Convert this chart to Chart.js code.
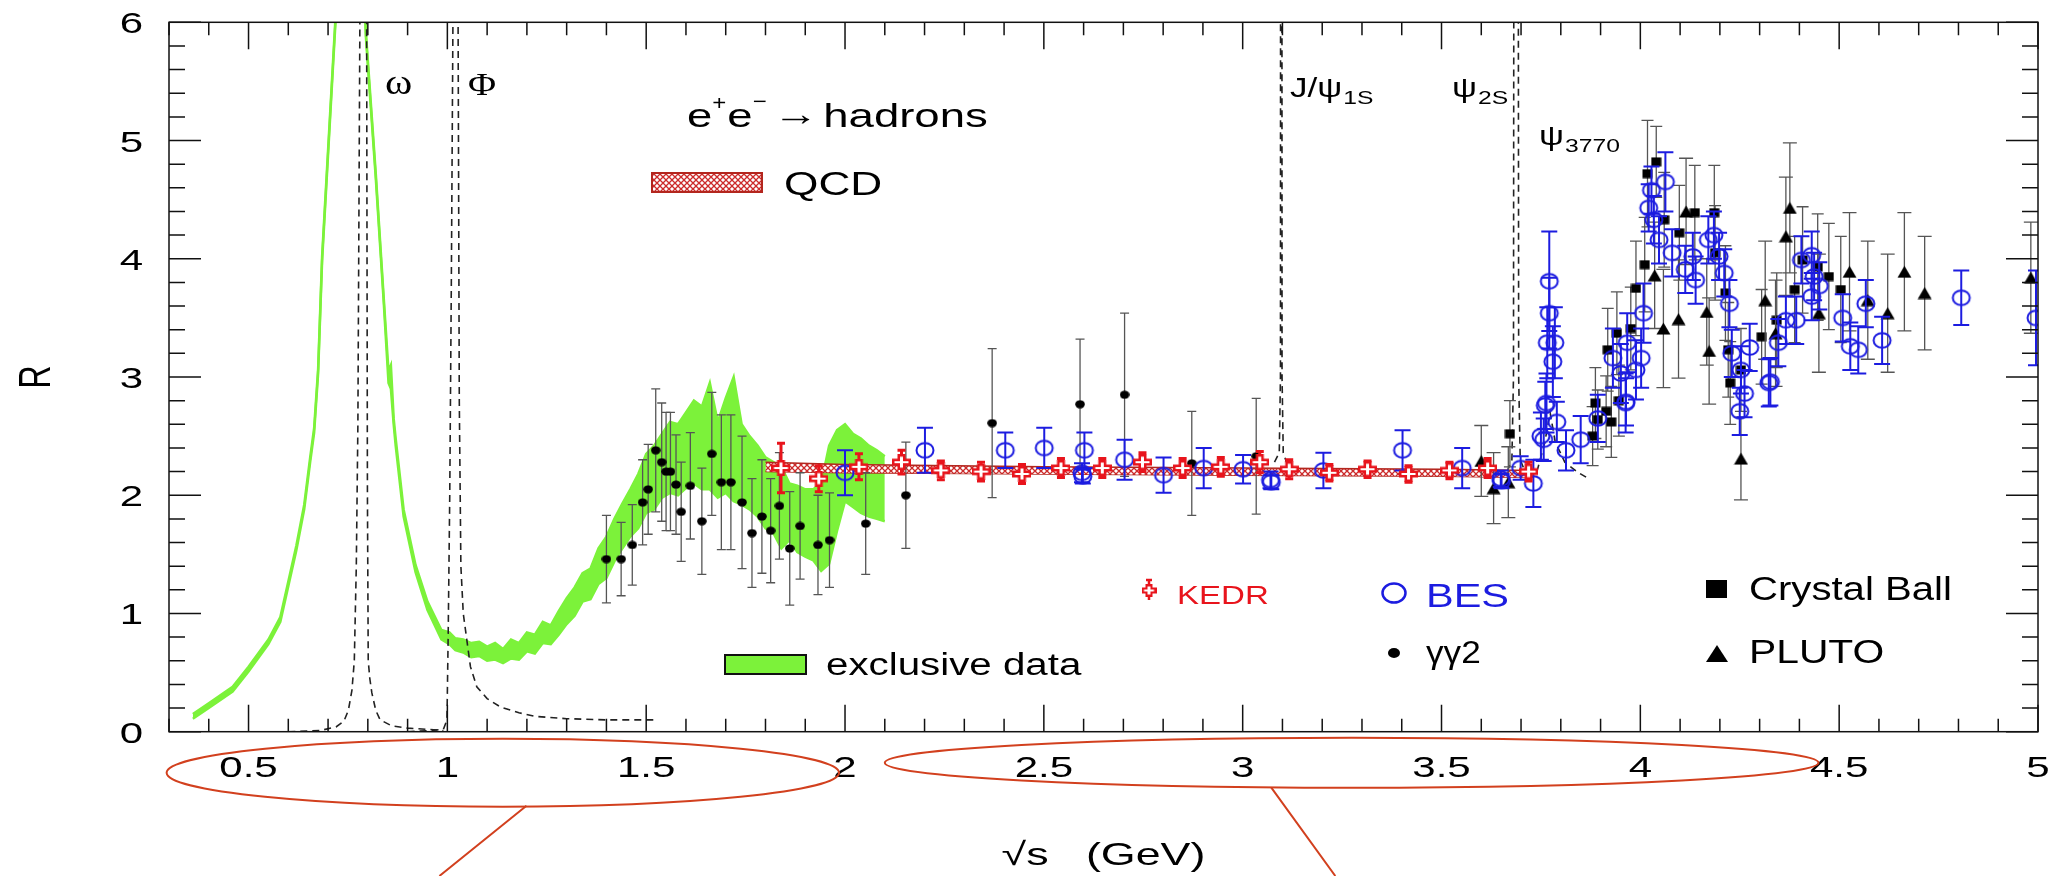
<!DOCTYPE html>
<html>
<head>
<meta charset="utf-8">
<script src="https://cdn.jsdelivr.net/npm/chart.js@4.4.1/dist/chart.umd.min.js"></script>
<style>
  html, body { margin: 0; padding: 0; background: #fff; }
  #wrap { width: 2051px; height: 876px; position: relative; }
</style>
</head>
<body>
<div id="wrap"><canvas id="c"></canvas></div>
<script>
// ---------- axis labels ----------
const xTickLabels = ['0.5', '1', '1.5', '2', '2.5', '3', '3.5', '4', '4.5', '5'];
const yTickLabels = ['0', '1', '2', '3', '4', '5', '6'];

// ---------- exclusive-channel sum (band) ----------
const exclEnergy = [0.36, 0.40, 0.46, 0.50, 0.55, 0.58, 0.60, 0.62, 0.64, 0.655, 0.665, 0.675, 0.685, 0.70, 0.72, 0.74, 0.76, 0.775, 0.785, 0.795,
  0.82, 0.84, 0.852, 0.858, 0.865, 0.87, 0.89, 0.92, 0.95, 0.985, 1.005, 1.02, 1.04, 1.06, 1.08, 1.10, 1.12, 1.14, 1.16, 1.18,
  1.20, 1.22, 1.24, 1.26, 1.28, 1.30, 1.32, 1.34, 1.36, 1.38, 1.40, 1.42, 1.44, 1.46, 1.48, 1.50, 1.52, 1.54, 1.56, 1.58,
  1.60, 1.62, 1.64, 1.66, 1.68, 1.70, 1.72, 1.74, 1.76, 1.78, 1.80, 1.82, 1.84, 1.86, 1.88, 1.90, 1.92, 1.94, 1.96, 1.98,
  2.00, 2.02, 2.04, 2.06, 2.08, 2.10];
const exclUpper = [0.15, 0.24, 0.38, 0.55, 0.78, 0.97, 1.27, 1.57, 1.92, 2.32, 2.57, 3.07, 4.02, 4.92, 6.12, 7.62, 8.62, 8.02, 7.02, 5.92,
  4.72, 3.67, 3.05, 3.10, 2.65, 2.48, 1.88, 1.41, 1.10, 0.86, 0.84, 0.79, 0.78, 0.75, 0.76, 0.72, 0.75, 0.70, 0.78, 0.75,
  0.84, 0.82, 0.93, 0.90, 1.02, 1.13, 1.22, 1.34, 1.38, 1.55, 1.65, 1.80, 1.93, 2.05, 2.18, 2.35, 2.42, 2.52, 2.62, 2.60,
  2.70, 2.80, 2.75, 2.95, 2.62, 2.82, 3.00, 2.60, 2.50, 2.42, 2.32, 2.28, 2.24, 2.10, 2.08, 2.05, 2.05, 2.10, 2.42, 2.55,
  2.60, 2.52, 2.48, 2.42, 2.38, 2.33];
const exclLower = [0.11, 0.20, 0.34, 0.51, 0.74, 0.93, 1.23, 1.53, 1.88, 2.28, 2.53, 3.03, 3.98, 4.88, 6.08, 7.58, 8.58, 7.98, 6.98, 5.88,
  4.68, 3.63, 2.95, 2.90, 2.60, 2.42, 1.82, 1.35, 1.03, 0.78, 0.74, 0.69, 0.67, 0.63, 0.64, 0.60, 0.61, 0.58, 0.62, 0.61,
  0.68, 0.66, 0.75, 0.74, 0.82, 0.91, 0.98, 1.10, 1.12, 1.25, 1.30, 1.44, 1.55, 1.65, 1.72, 1.85, 1.88, 1.98, 2.02, 2.00,
  2.06, 2.10, 2.05, 2.05, 1.98, 2.02, 1.95, 1.92, 1.88, 1.82, 1.72, 1.68, 1.55, 1.62, 1.52, 1.48, 1.45, 1.36, 1.42, 1.70,
  1.95, 1.90, 1.85, 1.82, 1.80, 1.78];

// ---------- narrow resonances (dashed) ----------
const omegaEnergy = [0.60, 0.68, 0.72, 0.74, 0.751, 0.760, 0.766, 0.771, 0.775, 0.780, 0.788, 0.797, 0.799, 0.801, 0.805, 0.81, 0.82, 0.831, 0.86, 0.90, 0.95, 0.99];
const omegaR = [0.0, 0.01, 0.04, 0.09, 0.18, 0.35, 0.6, 1.4, 2.6, 6.0, 12, 6.0, 2.0, 0.6, 0.45, 0.33, 0.18, 0.10, 0.05, 0.03, 0.02, 0.01];
const phiEnergy = [0.90, 0.96, 0.99, 0.999, 1.002, 1.006, 1.010, 1.014, 1.020, 1.027, 1.030, 1.034, 1.040, 1.048, 1.058, 1.074, 1.10, 1.133, 1.18, 1.22, 1.30, 1.40, 1.52];
const phiR = [0.0, 0.01, 0.02, 0.1, 0.8, 2.0, 3.8, 6.0, 14, 6.0, 2.8, 1.4, 1.0, 0.8, 0.55, 0.38, 0.28, 0.21, 0.16, 0.13, 0.11, 0.10, 0.10];
const jpsiEnergy = [3.08, 3.092, 3.095, 3.097, 3.099, 3.102, 3.11];
const jpsiR = [2.28, 2.36, 3.0, 30, 3.0, 2.36, 2.28];
const psi2sEnergy = [3.665, 3.677, 3.681, 3.6875, 3.694, 3.698, 3.71];
const psi2sR = [2.2, 2.3, 3.0, 30, 3.0, 2.3, 2.2];
const psi3770Energy = [3.74, 3.76, 3.773, 3.786, 3.81, 3.84, 3.87];
const psi3770R = [2.2, 2.45, 2.7, 2.45, 2.28, 2.2, 2.14];

// ---------- perturbative QCD band ----------
const qcdEnergy = [1.80, 2.0, 2.5, 3.0, 3.5, 3.73];
const qcdUpper = [2.28, 2.26, 2.24, 2.23, 2.22, 2.21];
const qcdLower = [2.20, 2.19, 2.18, 2.17, 2.16, 2.15];

// ---------- measurements: energy (GeV), R, error ----------
const gg2Energy = [1.40, 1.437, 1.465, 1.491, 1.505, 1.524, 1.539, 1.55, 1.561, 1.575, 1.588, 1.611, 1.64, 1.665, 1.689, 1.713, 1.741, 1.766,
  1.791, 1.813, 1.835, 1.861, 1.887, 1.932, 1.961, 2.052, 2.153, 2.37, 2.591, 2.703, 2.872, 3.034];
const gg2R = [1.46, 1.46, 1.58, 1.94, 2.05, 2.38, 2.28, 2.20, 2.20, 2.09, 1.86, 2.08, 1.78, 2.35, 2.11, 2.11, 1.94, 1.68,
  1.82, 1.70, 1.91, 1.55, 1.74, 1.58, 1.62, 1.76, 2.00, 2.61, 2.77, 2.85, 2.27, 2.33];
const gg2Err = [0.37, 0.31, 0.34, 0.36, 0.38, 0.52, 0.50, 0.50, 0.50, 0.42, 0.42, 0.45, 0.45, 0.52, 0.57, 0.57, 0.56, 0.46,
  0.48, 0.44, 0.45, 0.48, 0.45, 0.42, 0.40, 0.43, 0.45, 0.63, 0.55, 0.69, 0.44, 0.49];

const kedrEnergy = [1.839, 1.934, 2.035, 2.142, 2.241, 2.342, 2.445, 2.543, 2.647, 2.748, 2.849, 2.945, 3.043, 3.117, 3.218, 3.314, 3.417, 3.52, 3.616, 3.719];
const kedrR = [2.23, 2.14, 2.24, 2.28, 2.21, 2.20, 2.18, 2.23, 2.23, 2.28, 2.23, 2.24, 2.28, 2.22, 2.19, 2.22, 2.18, 2.21, 2.23, 2.20];
const kedrErr = [0.21, 0.11, 0.11, 0.10, 0.08, 0.08, 0.08, 0.08, 0.08, 0.08, 0.08, 0.08, 0.09, 0.08, 0.07, 0.07, 0.07, 0.07, 0.08, 0.08];

const besEnergy = [2.0, 2.201, 2.403, 2.501, 2.596, 2.598, 2.602, 2.703, 2.801, 2.902, 3.001, 3.07, 3.072, 3.203, 3.402, 3.552, 3.649, 3.651, 3.699, 3.731,
  3.75, 3.757, 3.761, 3.764, 3.766, 3.771, 3.771, 3.78, 3.785, 3.79, 3.813, 3.85, 3.893, 3.931, 3.951, 3.963, 3.964, 3.967, 3.989, 4.002,
  4.008, 4.021, 4.028, 4.034, 4.047, 4.063, 4.08, 4.113, 4.132, 4.139, 4.171, 4.185, 4.198, 4.211, 4.224, 4.23, 4.25, 4.253, 4.262, 4.275,
  4.323, 4.327, 4.347, 4.366, 4.392, 4.405, 4.431, 4.437, 4.45, 4.431, 4.509, 4.528, 4.548, 4.567, 4.608, 4.807, 4.995];
const besR = [2.19, 2.38, 2.38, 2.40, 2.19, 2.16, 2.38, 2.30, 2.17, 2.23, 2.22, 2.13, 2.11, 2.21, 2.38, 2.23, 2.14, 2.12, 2.23, 2.10,
  2.50, 2.47, 2.76, 2.78, 3.29, 3.81, 3.54, 3.13, 3.29, 2.62, 2.38, 2.47, 2.65, 3.16, 3.03, 2.78, 2.79, 3.29, 3.06, 3.16,
  3.54, 4.43, 4.58, 4.33, 4.16, 4.65, 4.05, 3.91, 4.02, 3.82, 4.16, 4.20, 4.02, 3.88, 3.62, 3.20, 2.71, 3.06, 2.86, 3.25,
  2.95, 2.96, 3.29, 3.48, 3.48, 3.99, 4.03, 3.85, 3.77, 3.68, 3.50, 3.26, 3.23, 3.62, 3.31, 3.67, 3.50];
const besErr = [0.19, 0.19, 0.15, 0.17, 0.08, 0.06, 0.15, 0.17, 0.15, 0.17, 0.12, 0.07, 0.06, 0.15, 0.17, 0.17, 0.07, 0.06, 0.10, 0.20,
  0.20, 0.18, 0.20, 0.25, 0.30, 0.42, 0.30, 0.30, 0.30, 0.17, 0.17, 0.20, 0.20, 0.25, 0.25, 0.25, 0.20, 0.25, 0.25, 0.25,
  0.25, 0.20, 0.20, 0.20, 0.20, 0.25, 0.20, 0.20, 0.20, 0.20, 0.20, 0.20, 0.20, 0.20, 0.20, 0.20, 0.20, 0.20, 0.20, 0.20,
  0.20, 0.20, 0.20, 0.20, 0.20, 0.20, 0.20, 0.20, 0.20, 0.20, 0.20, 0.20, 0.20, 0.20, 0.20, 0.23, 0.40];

const cbEnergy = [3.672, 3.88, 3.887, 3.893, 3.914, 3.918, 3.927, 3.941, 3.946, 3.976, 3.989, 4.011, 4.018, 4.04, 4.06, 4.098, 4.137, 4.186,
  4.188, 4.214, 4.221, 4.226, 4.253, 4.305, 4.343, 4.388, 4.408, 4.446, 4.474, 4.504];
const cbR = [2.52, 2.50, 2.78, 2.64, 2.71, 3.23, 2.62, 3.37, 2.80, 3.41, 3.75, 3.95, 4.72, 4.82, 4.33, 4.22, 4.39, 4.39,
  4.05, 3.71, 3.23, 2.95, 3.06, 3.34, 3.48, 3.74, 3.99, 3.93, 3.85, 3.74];
const cbErr = [0.28, 0.25, 0.30, 0.25, 0.30, 0.35, 0.30, 0.35, 0.30, 0.35, 0.40, 0.40, 0.45, 0.30, 0.40, 0.40, 0.40, 0.40,
  0.40, 0.40, 0.40, 0.35, 0.35, 0.40, 0.40, 0.45, 0.45, 0.45, 0.45, 0.45];

const plutoEnergy = [3.60, 3.631, 3.668, 4.036, 4.058, 4.096, 4.115, 4.167, 4.173, 4.253, 4.314, 4.34, 4.366, 4.376, 4.449, 4.526, 4.572, 4.622, 4.664, 4.715, 4.982];
const plutoR = [2.29, 2.06, 2.11, 3.86, 3.41, 3.49, 4.40, 3.55, 3.22, 2.31, 3.65, 3.37, 4.19, 4.43, 3.54, 3.89, 3.65, 3.54, 3.89, 3.71, 3.84];
const plutoErr = [0.30, 0.30, 0.30, 0.45, 0.50, 0.50, 0.45, 0.45, 0.45, 0.35, 0.50, 0.45, 0.50, 0.55, 0.50, 0.50, 0.50, 0.50, 0.50, 0.48, 0.47];

// ---------- styling ----------
const GREEN = '#7cf23a';
const KEDR_RED = '#e8141c';
const BES_BLUE = '#1c1ce0';
const TEXT_STRETCH = 1.4;
const FONT = '"Liberation Sans", Arial, Helvetica, sans-serif';
const SERIF = '"Liberation Serif", "Times New Roman", serif';

const pts = (xs, ys) => xs.map((x, i) => ({ x, y: ys[i] }));

// cross-hatch fill for the QCD band
const hatch = (() => {
  const c = document.createElement('canvas');
  c.width = 6; c.height = 6;
  const g = c.getContext('2d');
  g.fillStyle = '#fff'; g.fillRect(0, 0, 6, 6);
  g.strokeStyle = '#cc2a2a'; g.lineWidth = 1.3;
  g.beginPath(); g.moveTo(0, 0); g.lineTo(6, 6); g.moveTo(6, 0); g.lineTo(0, 6); g.stroke();
  return c.getContext('2d').createPattern(c, 'repeat');
})();

// marker sprites (the plot's symbols are slightly wider than tall)
function sprite(w, h, draw) {
  const c = document.createElement('canvas');
  c.width = w; c.height = h;
  draw(c.getContext('2d'), w, h);
  return c;
}
function plusSprite(w, h, vArm, hArm) {
  return sprite(w, h, (g) => {
    g.fillStyle = KEDR_RED;
    g.fillRect((w - vArm) / 2, 0, vArm, h);
    g.fillRect(0, (h - hArm) / 2, w, hArm);
    g.fillStyle = '#fff';
    g.fillRect(w / 2 - 1.5, 2.5, 3, h - 5);
    g.fillRect(2.5, h / 2 - 1, w - 5, 2);
  });
}
const kedrMarker = plusSprite(19, 16, 8, 7);
const kedrLegendMarker = plusSprite(15, 13, 7, 6);
const besMarker = sprite(22, 19, (g, w, h) => {
  g.strokeStyle = BES_BLUE; g.lineWidth = 2;
  g.beginPath(); g.ellipse(w / 2, h / 2, 8.5, 7.3, 0, 0, Math.PI * 2); g.stroke();
});
const dotMarker = sprite(10, 9, (g, w, h) => {
  g.fillStyle = '#000';
  g.beginPath(); g.ellipse(w / 2, h / 2, 4.8, 4.1, 0, 0, Math.PI * 2); g.fill();
});
const squareMarker = sprite(11, 10, (g, w, h) => { g.fillStyle = '#000'; g.fillRect(0.5, 0.5, w - 1, h - 1); });
const triangleMarker = sprite(15, 13, (g, w, h) => {
  g.fillStyle = '#000';
  g.beginPath(); g.moveTo(w / 2, 0.5); g.lineTo(w - 0.5, h - 0.5); g.lineTo(0.5, h - 0.5); g.closePath(); g.fill();
});

function line(data, color, width, dash, order) {
  return { data, showLine: true, pointRadius: 0, borderColor: color, borderWidth: width, borderDash: dash || [], fill: false, tension: 0, order };
}

const datasets = [
  { label: 'KEDR', data: pts(kedrEnergy, kedrR), pointStyle: kedrMarker, pointRadius: 10, order: 1,
    errors: kedrErr, errColor: KEDR_RED, errWidth: 3, cap: 4 },
  { label: 'BES', data: pts(besEnergy, besR), pointStyle: besMarker, pointRadius: 9, order: 2,
    errors: besErr, errColor: BES_BLUE, errWidth: 2, cap: 8 },
  { label: 'PLUTO', data: pts(plutoEnergy, plutoR), pointStyle: triangleMarker, pointRadius: 8, order: 3,
    errors: plutoErr, errColor: '#555', errWidth: 1.3, cap: 7 },
  { label: 'Crystal Ball', data: pts(cbEnergy, cbR), pointStyle: squareMarker, pointRadius: 6, order: 4,
    errors: cbErr, errColor: '#555', errWidth: 1.3, cap: 6 },
  { label: 'γγ2', data: pts(gg2Energy, gg2R), pointStyle: dotMarker, pointRadius: 5, order: 5,
    errors: gg2Err, errColor: '#555', errWidth: 1.3, cap: 4.5 },
  Object.assign(line(pts(qcdEnergy, qcdUpper), '#b3261e', 1.5, null, 6), { label: 'QCD', fill: '+1', backgroundColor: hatch }),
  Object.assign(line(pts(qcdEnergy, qcdLower), '#b3261e', 1.5, null, 6), { label: 'QCD lower' }),
  Object.assign(line(pts(omegaEnergy, omegaR), '#222', 1.6, [7, 5], 7), { label: 'ω' }),
  Object.assign(line(pts(phiEnergy, phiR), '#222', 1.6, [7, 5], 7), { label: 'Φ' }),
  Object.assign(line(pts(jpsiEnergy, jpsiR), '#222', 1.6, [7, 5], 7), { label: 'J/ψ' }),
  Object.assign(line(pts(psi2sEnergy, psi2sR), '#222', 1.6, [7, 5], 7), { label: 'ψ(2S)' }),
  Object.assign(line(pts(psi3770Energy, psi3770R), '#222', 1.6, [7, 5], 7), { label: 'ψ(3770)' }),
  Object.assign(line(pts(exclEnergy, exclUpper), GREEN, 2.5, null, 8), { label: 'exclusive data', fill: '+1', backgroundColor: GREEN }),
  Object.assign(line(pts(exclEnergy, exclLower), GREEN, 2.5, null, 8), { label: 'exclusive data lower' })
];

// vertical error bars, drawn just before the markers of their dataset
const errorBarPlugin = {
  id: 'errorBars',
  beforeDatasetDraw(chart, args) {
    const ds = chart.data.datasets[args.index];
    if (!ds.errors) return;
    const { ctx, chartArea: a, scales: { x, y } } = chart;
    ctx.save();
    ctx.beginPath(); ctx.rect(a.left, a.top, a.right - a.left, a.bottom - a.top); ctx.clip();
    ctx.strokeStyle = ds.errColor; ctx.lineWidth = ds.errWidth; ctx.setLineDash([]);
    ds.data.forEach((p, i) => {
      const e = ds.errors[i];
      const px = x.getPixelForValue(p.x);
      const y1 = y.getPixelForValue(p.y + e), y2 = y.getPixelForValue(p.y - e);
      ctx.beginPath();
      ctx.moveTo(px, y1); ctx.lineTo(px, y2);
      ctx.moveTo(px - ds.cap, y1); ctx.lineTo(px + ds.cap, y1);
      ctx.moveTo(px - ds.cap, y2); ctx.lineTo(px + ds.cap, y2);
      ctx.stroke();
    });
    ctx.restore();
  }
};

// text with the wide, horizontally stretched lettering of the plot
function text(ctx, s, x, y, size, o = {}) {
  ctx.save();
  ctx.font = (o.weight || '') + ' ' + size + 'px ' + (o.family || FONT);
  ctx.fillStyle = o.color || '#000';
  ctx.textAlign = o.align || 'left';
  ctx.textBaseline = 'alphabetic';
  ctx.translate(x, y);
  const sx = o.sx || TEXT_STRETCH;
  ctx.scale(sx, 1);
  ctx.fillText(s, 0, 0);
  const w = ctx.measureText(s).width * sx;
  ctx.restore();
  return w;
}

const framePlugin = {
  id: 'frame',
  beforeDraw(chart) {
    const { ctx, width, height } = chart;
    ctx.save(); ctx.fillStyle = '#fff'; ctx.fillRect(0, 0, width, height); ctx.restore();
  },
  afterDraw(chart) {
    const { ctx, chartArea: a, scales: { x, y } } = chart;
    ctx.save();
    ctx.strokeStyle = '#111'; ctx.lineWidth = 1.5; ctx.setLineDash([]);
    ctx.strokeRect(a.left, a.top, a.right - a.left, a.bottom - a.top);
    ctx.beginPath();
    for (let i = 3; i <= 50; i++) {
      const px = x.getPixelForValue(i / 10);
      const L = i % 5 === 0 ? 27 : 13;
      ctx.moveTo(px, a.bottom); ctx.lineTo(px, a.bottom - L);
      ctx.moveTo(px, a.top); ctx.lineTo(px, a.top + L);
    }
    for (let i = 0; i <= 30; i++) {
      const py = y.getPixelForValue(i / 5);
      const L = i % 5 === 0 ? 32 : 16;
      ctx.moveTo(a.left, py); ctx.lineTo(a.left + L, py);
      ctx.moveTo(a.right, py); ctx.lineTo(a.right - L, py);
    }
    ctx.stroke();
    ctx.restore();

    // tick labels
    xTickLabels.forEach(l => text(ctx, l, x.getPixelForValue(+l), a.bottom + 45, 30, { align: 'center' }));
    yTickLabels.forEach(l => text(ctx, l, a.left - 26, y.getPixelForValue(+l) + 11, 30, { align: 'right' }));

    // axis titles
    text(ctx, '\u221As   (GeV)', (a.left + a.right) / 2, 865, 32, { align: 'center' });
    ctx.save();
    ctx.translate(50, (a.top + a.bottom) / 2);
    ctx.scale(TEXT_STRETCH, 1);
    ctx.rotate(-Math.PI / 2);
    ctx.font = '32px ' + FONT; ctx.textAlign = 'center'; ctx.fillStyle = '#000';
    ctx.fillText('R', 0, 0);
    ctx.restore();

    // resonance names
    text(ctx, 'ω', 385, 94, 36, { family: SERIF, sx: 1.15 });
    text(ctx, 'Φ', 468, 95, 32, { family: SERIF, sx: 1.2 });
    let w = text(ctx, 'J/ψ', 1290, 97, 28, { sx: 1.25 });
    text(ctx, '1S', 1290 + w + 1, 104, 19, { sx: 1.3 });
    w = text(ctx, 'ψ', 1452, 97, 28, { sx: 1.25 });
    text(ctx, '2S', 1452 + w + 1, 104, 19, { sx: 1.3 });
    w = text(ctx, 'ψ', 1539, 145, 28, { sx: 1.25 });
    text(ctx, '3770', 1539 + w + 1, 152, 19, { sx: 1.3 });

    // process label
    let px = 687;
    px += text(ctx, 'e', px, 127, 33, { sx: 1.38 });
    px += text(ctx, '+', px, 110, 20, { sx: 1.2 }) + 1;
    px += text(ctx, 'e', px, 127, 33, { sx: 1.38 });
    px += text(ctx, '\u2212', px, 108, 20, { sx: 1.2 }) + 6;
    px += text(ctx, '\u2192', px, 125, 33, { sx: 1.38 }) + 5;
    text(ctx, 'hadrons', px, 127, 33, { sx: 1.38 });

    // legend entries
    ctx.save();
    ctx.fillStyle = hatch; ctx.fillRect(652, 173, 110, 19);
    ctx.strokeStyle = '#b3261e'; ctx.lineWidth = 2; ctx.strokeRect(652, 173, 110, 19);
    ctx.fillStyle = GREEN; ctx.fillRect(725, 655, 81, 19);
    ctx.strokeStyle = '#111'; ctx.strokeRect(725, 655, 81, 19);
    ctx.restore();
    text(ctx, 'QCD', 784, 195, 34, { sx: 1.3 });
    text(ctx, 'exclusive data', 826, 675, 31, { sx: 1.3 });

    ctx.save();
    ctx.strokeStyle = KEDR_RED; ctx.lineWidth = 2.5;
    ctx.beginPath(); ctx.moveTo(1149, 580); ctx.lineTo(1149, 600); ctx.moveTo(1146, 580); ctx.lineTo(1152, 580); ctx.stroke();
    ctx.drawImage(kedrLegendMarker, 1141.5, 584);
    ctx.strokeStyle = BES_BLUE; ctx.lineWidth = 2.5;
    ctx.beginPath(); ctx.ellipse(1394, 593, 11.5, 9.5, 0, 0, Math.PI * 2); ctx.stroke();
    ctx.fillStyle = '#000';
    ctx.beginPath(); ctx.ellipse(1394, 653, 6, 5, 0, 0, Math.PI * 2); ctx.fill();
    ctx.fillRect(1706, 580, 21, 18);
    ctx.beginPath(); ctx.moveTo(1717, 645); ctx.lineTo(1728, 662); ctx.lineTo(1706, 662); ctx.closePath(); ctx.fill();
    ctx.restore();
    text(ctx, 'KEDR', 1177, 604, 26, { color: KEDR_RED, sx: 1.27 });
    text(ctx, 'BES', 1426, 607, 34, { color: BES_BLUE, sx: 1.22 });
    text(ctx, 'γγ2', 1426, 663, 32, { sx: 1.1 });
    text(ctx, 'Crystal Ball', 1749, 600, 34, { sx: 1.18 });
    text(ctx, 'PLUTO', 1749, 663, 34, { sx: 1.2 });

    // highlighted energy ranges under the axis
    ctx.save();
    ctx.strokeStyle = '#d2401e'; ctx.lineWidth = 2;
    const e1l = x.getPixelForValue(0.294), e1r = x.getPixelForValue(1.985);
    ctx.beginPath(); ctx.ellipse((e1l + e1r) / 2, a.bottom + 41, (e1r - e1l) / 2, 34, 0, 0, Math.PI * 2); ctx.stroke();
    const e2l = x.getPixelForValue(2.10), e2r = x.getPixelForValue(4.448);
    ctx.beginPath(); ctx.ellipse((e2l + e2r) / 2, a.bottom + 31, (e2r - e2l) / 2, 25, 0, 0, Math.PI * 2); ctx.stroke();
    ctx.beginPath();
    ctx.moveTo(x.getPixelForValue(1.199), a.bottom + 74); ctx.lineTo(x.getPixelForValue(0.98), chart.height);
    ctx.moveTo(x.getPixelForValue(3.072), a.bottom + 56); ctx.lineTo(x.getPixelForValue(3.233), chart.height);
    ctx.stroke();
    ctx.restore();
  }
};

new Chart(document.getElementById('c'), {
  type: 'scatter',
  data: { datasets },
  options: {
    responsive: true,
    maintainAspectRatio: false,
    animation: false,
    events: [],
    layout: { padding: { top: 22.3, right: 13, left: 0, bottom: 0 } },
    plugins: { legend: { display: false }, tooltip: { enabled: false } },
    scales: {
      x: {
        type: 'linear', min: 0.3, max: 5.0,
        grid: { display: false }, border: { display: false }, ticks: { display: false },
        afterBuildTicks: s => { s.ticks = xTickLabels.map(v => ({ value: +v })); },
        afterFit: s => { s.height = 144.3; }
      },
      y: {
        type: 'linear', min: 0, max: 6,
        grid: { display: false }, border: { display: false }, ticks: { display: false },
        afterBuildTicks: s => { s.ticks = yTickLabels.map(v => ({ value: +v })); },
        afterFit: s => { s.width = 169; }
      }
    }
  },
  plugins: [errorBarPlugin, framePlugin]
});
</script>
</body>
</html>
